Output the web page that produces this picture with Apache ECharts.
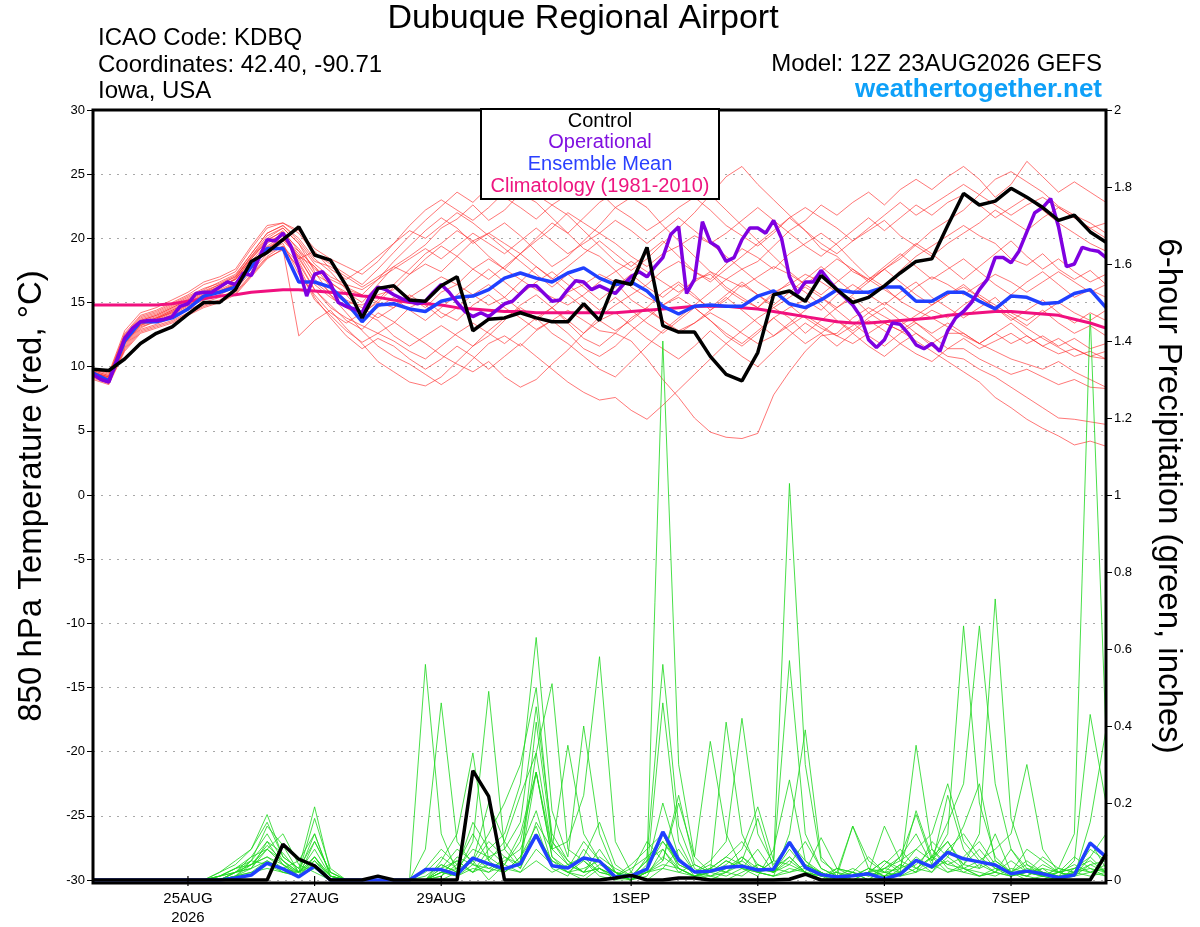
<!DOCTYPE html>
<html><head><meta charset="utf-8">
<script src="https://cdn.jsdelivr.net/npm/echarts@6/dist/echarts.min.js"></script>
<style>html,body{margin:0;padding:0;background:#fff}#chart{width:1200px;height:927px}</style>
</head><body><div id="chart"></div>
<script>
// ---- tick labels (hours since 12Z 23AUG2026) ----
const tickHours = [36, 84, 132, 204, 252, 300, 348];
const tickLabels = ['25AUG\n2026', '27AUG', '29AUG', '1SEP', '3SEP', '5SEP', '7SEP'];

// ---- 6-hourly main series (65 points, 0..384 h) ----
const controlTemp = [
 9.8,9.7,10.6,11.8,12.6,13.1,14.1,15.0,15.0,16.0,18.2,18.9,19.9,
 20.9,18.7,18.3,16.3,13.8,16.1,16.3,15.2,15.1,16.3,17.0,12.8,13.7,
 13.8,14.2,13.8,13.5,13.5,14.9,13.6,16.7,16.4,19.3,13.2,12.7,12.7,
 10.8,9.4,8.9,11.1,15.6,15.9,15.1,17.1,16.0,15.0,15.4,16.3,17.3,
 18.2,18.4,21.0,23.5,22.6,22.9,23.9,23.2,22.4,21.4,21.8,20.5,19.7];
const meanTemp = [
 9.5,8.9,12.0,13.5,13.5,13.8,14.5,15.5,15.8,16.2,17.8,19.2,19.2,
 16.6,16.6,16.2,15.0,13.5,14.8,14.9,14.5,14.3,15.1,15.4,15.5,16.0,
 16.9,17.3,16.9,16.6,17.3,17.7,16.9,16.4,16.6,15.9,14.7,14.1,14.7,
 14.8,14.7,14.7,15.5,15.9,14.9,14.6,15.2,16.0,15.8,15.8,16.2,16.2,
 15.1,15.1,15.8,15.8,15.1,14.5,15.5,15.4,14.9,15.0,15.7,16.0,14.6];
const climoTemp = [
 14.8,14.8,14.8,14.8,14.8,14.9,15.1,15.3,15.5,15.6,15.8,15.9,16.0,
 16.0,15.9,15.8,15.7,15.5,15.4,15.2,15.0,14.9,14.8,14.6,14.5,14.4,
 14.3,14.3,14.2,14.2,14.2,14.2,14.2,14.2,14.3,14.4,14.5,14.6,14.7,
 14.7,14.7,14.6,14.5,14.3,14.1,13.9,13.7,13.5,13.4,13.4,13.5,13.6,
 13.7,13.8,14.0,14.1,14.2,14.3,14.3,14.2,14.1,14.0,13.7,13.4,13.0];
const controlPrecip = [
 0,0,0,0,0,0,0,0,0,0,0,0,0.093,
 0.054,0.037,0,0,0,0.01,0,0,0,0,0,0.284,0.217,
 0,0,0,0,0,0,0,0.005,0.012,0,0,0.005,0.005,
 0,0,0,0,0,0.002,0.015,0,0,0,0,0,0,
 0,0,0,0,0,0,0,0,0,0,0,0,0.067];
const meanPrecip = [
 0,0,0,0,0,0,0,0,0,0.005,0.013,0.044,0.029,
 0.008,0.036,0,0,0,0,0,0,0.027,0.027,0.014,0.057,0.042,
 0.029,0.042,0.117,0.037,0.031,0.057,0.049,0.008,0.011,0.028,0.125,0.052,0.021,
 0.023,0.033,0.036,0.026,0.028,0.098,0.033,0.014,0.008,0.011,0.016,0.003,0.015,
 0.051,0.034,0.072,0.055,0.047,0.039,0.016,0.023,0.016,0.006,0.013,0.096,0.06];

// ---- 3-hourly operational run (129 points) ----
const operationalTemp = [
 9.4,9.0,8.8,10.5,12.2,13.0,13.5,13.6,13.6,13.7,
 13.9,14.7,14.9,15.7,15.8,15.8,16.2,16.6,16.4,17.3,
 17.1,18.5,19.9,19.8,20.4,19.4,17.7,15.5,17.2,17.4,
 16.5,15.0,14.7,14.5,14.2,15.5,16.2,16.0,15.6,15.3,
 15.1,14.9,15.1,15.8,16.4,15.8,15.0,14.3,13.9,14.2,
 13.9,14.4,14.9,15.1,15.7,16.3,16.3,15.7,15.1,15.2,
 16.0,16.7,16.6,16.0,16.3,16.0,15.7,16.4,17.0,17.4,
 17.0,17.8,18.5,20.3,20.9,15.7,16.8,21.3,19.7,19.3,
 18.2,18.5,19.9,20.8,20.8,20.4,21.4,20.0,17.0,15.7,
 16.6,16.6,17.5,16.7,16.0,15.4,14.8,13.9,12.1,11.5,
 12.1,13.4,13.3,12.6,11.7,11.4,11.8,11.2,12.8,13.8,
 14.3,15.0,16.0,16.8,18.5,18.5,18.1,19.0,20.5,22.0,
 22.4,23.1,20.9,17.8,18.0,19.3,19.1,19.0,18.5];

// ---- ensemble members: 850 hPa temperature (6-hourly) ----
const memberT01 = [9.6,9.2,12.2,13.6,14.0,14.6,15.2,15.8,16.2,16.8,18.4,19.8,20.6, 19.0,17.2,16.5,15.8,15.0,16.4,17.8,18.6,19.5, 20.8,21.5,22.6,21.4,22.2,23.5,22.8,21.6,20.4,19.2,18.6,17.5, 16.2,15.4,14.8,15.6,16.8,17.2,16.0,15.2,14.6,15.8,16.4, 17.2,16.6,15.8,14.9,15.5,16.2,15.1,14.4,13.8,13.1, 12.4,11.8,12.6,11.8,12.4,11.6,11.0,11.4,10.8,10.6];
const memberT02 = [9.4,8.9,11.8,13.2,13.8,14.2,14.8,15.4,16.0,16.6,18.0,19.4,20.2, 18.2,16.0,14.8,13.6,12.9,14.2,13.5,12.6,11.8, 10.9,10.2,9.6,10.4,9.2,8.4,9.0,10.2,11.3,12.6,13.9,14.8, 15.6,16.4,17.5,18.2,17.4,16.8,18.0,19.2,18.5,17.6,18.8, 19.6,20.4,19.5,18.2,17.0,16.2,17.5,18.6,19.4,20.2, 21.0,20.2,19.6,18.4,17.9,18.8,17.6,16.8,17.5,16.4];
const memberT03 = [9.8,9.4,12.6,14.0,14.4,15.0,15.6,16.4,16.8,17.4,19.2,20.8,21.2, 20.4,18.8,18.0,17.2,16.4,17.6,18.9,20.2,21.4, 22.5,23.6,22.8,24.0,23.2,22.4,21.5,22.6,21.8,20.6,19.4,18.2, 17.5,18.4,19.6,20.8,22.0,23.4,24.8,25.6,24.2,23.0,21.8, 20.6,19.2,18.6,17.4,16.8,17.6,18.4,19.5,20.6,21.4, 22.2,23.4,24.6,25.2,24.4,23.6,22.5,21.8,21.2,20.4];
const memberT04 = [9.2,8.8,11.4,12.8,13.2,13.6,14.2,14.8,15.2,15.8,17.2,18.6,19.4, 17.6,15.2,14.0,12.8,11.9,12.6,13.4,14.6,15.2, 14.2,13.6,14.8,15.6,14.6,13.8,12.9,13.6,14.4,13.6,12.8,12.6, 12.0,10.6,9.0,7.6,6.0,4.9,4.5,4.4,4.8,7.8,9.6, 11.2,12.4,12.6,13.8,14.6,13.9,13.2,14.0,14.8,15.6, 16.2,15.4,14.6,13.8,13.0,12.2,11.5,10.8,11.2,10.6];
const memberT05 = [9.5,9.1,12.0,13.4,13.8,14.4,15.0,15.6,15.9,16.4,17.8,19.0,19.8, 18.6,17.8,16.6,15.6,14.2,15.0,16.2,15.4,14.6, 15.8,16.4,15.6,14.8,15.4,16.6,17.8,16.9,15.8,16.4,17.2,16.6, 15.2,14.4,13.6,12.8,13.4,14.2,13.5,12.6,11.8,12.4,13.2, 14.0,13.2,12.4,11.8,12.6,13.4,12.8,12.0,11.2,10.4, 9.6,8.8,7.6,6.8,5.9,5.2,4.6,3.9,4.2,3.8];
const memberT06 = [9.3,8.8,11.6,13.0,13.6,14.0,14.6,15.2,15.6,16.2,17.6,19.2,20.0, 18.8,16.8,15.8,15.0,14.8,15.6,16.0,17.2,18.0, 17.4,18.6,19.8,20.4,19.6,18.8,19.8,20.8,22.0,21.2,20.4,19.6, 18.6,17.8,18.8,19.4,20.2,19.6,18.6,17.6,18.2,19.4,20.6, 21.4,22.6,21.8,22.8,23.6,22.6,23.8,24.6,23.8,24.8, 25.6,24.6,23.2,24.2,26.0,24.8,23.6,24.4,23.6,22.8];
const memberT07 = [9.6,9.0,11.9,13.3,13.7,14.3,14.9,15.5,16.1,16.9,18.6,20.2,20.8, 19.6,17.4,15.6,14.2,12.8,11.6,10.8,10.2,9.4, 8.6,9.4,10.6,11.8,12.4,11.6,12.8,13.6,12.6,11.4,10.8,11.6, 12.8,13.8,14.8,15.4,14.6,13.6,12.4,11.6,12.6,13.8,14.6, 15.2,14.4,15.6,16.4,15.6,14.8,15.8,16.6,15.4,14.6, 13.8,14.6,15.4,14.2,13.6,14.4,13.4,12.6,13.2,12.4];
const memberT08 = [9.7,9.3,12.4,13.8,14.2,14.8,15.4,16.0,16.6,17.2,18.8,20.4,21.0, 20.0,18.4,17.4,16.0,15.6,16.8,18.2,19.4,20.6, 21.6,20.8,19.6,20.4,21.2,20.2,19.0,17.8,18.6,19.8,21.0,22.4, 23.2,22.4,21.0,19.8,18.6,17.4,16.2,15.4,14.6,15.6,16.6, 15.8,14.8,13.6,12.8,13.8,14.6,13.6,12.6,11.8,12.6, 12.6,11.8,11.2,10.6,10.2,9.8,10.4,9.6,9.0,8.4];
const memberT09 = [9.5,9.0,12.1,13.5,13.9,14.5,15.1,15.7,16.3,16.8,18.2,19.6,20.4, 19.2,17.6,16.8,16.2,15.6,15.0,14.6,15.4,16.2, 17.0,16.4,17.6,18.4,17.6,16.8,16.0,15.4,14.8,15.6,16.6,17.4, 18.2,17.4,16.6,15.8,16.6,17.4,16.8,16.2,17.0,17.8,17.2, 16.4,15.6,16.6,17.6,16.8,16.0,15.2,16.2,17.0,16.4, 15.6,16.4,17.2,16.6,15.8,16.6,17.4,16.6,15.8,16.4];
const memberT10 = [9.0,8.6,11.2,12.6,13.0,13.4,14.0,14.6,15.0,15.6,17.0,18.4,19.2, 12.4,13.6,14.4,13.0,11.8,10.4,9.6,8.8,8.5, 9.2,10.4,11.6,12.4,13.6,14.8,15.6,14.6,13.4,12.2,11.6,12.6, 13.8,14.6,15.8,16.6,15.6,14.4,15.2,16.4,15.6,14.6,13.8, 12.6,13.6,14.6,15.4,14.2,13.4,12.8,13.6,14.4,13.8, 14.8,15.6,14.8,14.0,13.2,14.2,15.0,14.2,13.6,14.4];
const memberT11 = [9.8,9.5,12.8,14.2,14.6,15.2,15.8,16.6,17.0,17.6,19.4,21.0,21.2, 20.6,19.2,18.4,17.8,17.2,18.2,19.6,21.0,22.2, 23.0,22.2,21.4,22.4,23.6,24.2,23.4,22.6,23.4,24.4,23.6,22.4, 21.6,20.6,21.4,22.4,23.2,22.2,21.0,20.2,19.4,20.4,21.6, 22.4,21.6,20.8,19.8,20.6,21.4,20.2,19.4,18.6,19.6, 20.4,21.2,22.2,21.4,20.6,21.6,22.4,21.6,20.8,20.0];
const memberT12 = [9.4,9.0,11.7,13.1,13.5,14.1,14.7,15.3,15.8,16.4,17.8,19.0,19.6, 17.2,15.6,14.2,13.4,14.2,13.6,12.4,11.6,12.4, 13.2,12.4,11.6,12.8,13.8,14.6,13.8,12.6,11.8,10.8,9.8,9.2, 10.4,11.6,12.8,13.8,14.8,15.8,16.8,17.6,16.6,15.8,14.8, 13.8,13.0,12.4,13.2,14.2,15.0,14.2,13.4,12.6,13.4, 12.6,11.8,12.6,13.4,12.4,11.6,12.2,11.4,10.8,11.2];
const memberT13 = [9.6,9.1,12.0,13.4,13.8,14.4,15.0,15.6,16.2,16.8,18.4,19.8,20.2, 18.6,16.4,15.4,14.6,14.0,15.2,16.4,17.6,18.8, 19.6,20.6,19.8,18.6,17.6,18.8,20.0,21.2,20.4,21.6,22.8,23.6, 24.4,25.2,24.2,25.9,24.6,23.4,22.2,21.0,19.8,18.6,17.4, 16.4,17.4,18.4,17.6,16.6,17.6,18.6,19.6,18.8,17.8, 16.8,17.8,18.8,19.8,18.6,17.6,18.4,17.4,16.6,17.2];
const memberT14 = [9.2,8.7,11.5,12.9,13.3,13.8,14.4,15.0,15.4,16.0,17.4,18.8,19.4, 18.0,16.0,14.6,13.8,13.2,12.6,12.0,11.2,10.6, 11.6,12.6,13.4,12.6,11.8,12.8,13.8,14.6,13.6,12.6,13.6,14.2, 13.2,12.2,11.4,10.6,11.6,12.8,11.8,10.8,10.0,11.2,12.4, 13.4,12.6,11.6,12.6,13.6,12.8,11.8,11.0,10.4,11.4, 12.2,11.4,12.0,12.6,11.8,12.4,11.6,12.2,11.4,11.8];
const memberT15 = [9.5,9.2,12.3,13.7,14.1,14.7,15.3,15.9,16.4,17.0,18.6,20.0,20.8, 19.6,18.0,17.0,16.4,16.0,16.8,17.6,18.4,19.2, 18.4,19.4,20.4,19.6,18.8,19.8,20.8,19.8,18.8,19.6,20.4,21.4, 20.6,19.6,20.6,21.6,20.6,19.6,20.4,21.4,22.4,21.4,20.4, 19.4,18.6,19.6,20.6,21.6,20.6,21.6,22.6,21.8,22.8, 23.4,22.6,21.6,22.4,23.2,22.2,21.2,20.4,19.6,19.0];
const memberT16 = [9.3,8.9,11.8,13.2,13.6,14.2,14.8,15.4,15.8,16.4,17.8,19.2,19.9, 19.0,17.8,16.2,15.2,14.6,13.8,14.6,15.6,14.8, 13.8,14.6,15.6,16.4,15.4,14.4,13.6,14.6,15.6,14.6,13.6,12.8, 13.6,14.6,13.6,12.6,13.4,14.4,15.4,14.4,13.4,12.4,13.4, 14.4,15.4,14.4,13.4,12.4,11.6,12.6,13.4,12.4,11.4, 11.4,10.6,10.0,9.4,9.8,9.2,8.6,9.0,8.4,8.3];
const memberT17 = [9.7,9.3,12.5,13.9,14.3,14.9,15.5,16.1,16.5,17.1,18.8,20.4,21.0, 19.8,18.2,17.8,17.0,16.2,17.0,17.8,17.2,18.4, 19.4,18.6,17.6,16.8,17.8,18.8,17.8,16.8,17.8,18.8,19.8,18.8, 17.8,18.8,19.8,18.6,17.4,16.6,17.6,18.6,19.6,20.6,21.6, 20.6,19.6,18.8,19.8,20.8,21.8,22.8,21.8,22.6,23.4, 24.2,23.4,22.6,21.8,22.6,23.2,22.4,21.6,20.8,21.2];
const memberT18 = [9.1,8.7,11.3,12.7,13.1,13.5,14.1,14.7,15.1,15.7,17.1,18.5,19.1, 17.8,15.4,13.8,12.4,11.4,12.2,11.6,10.6,9.8, 10.6,11.6,10.8,9.8,10.8,11.8,10.8,9.8,8.8,8.0,7.4,7.6, 6.6,5.9,7.0,8.2,9.4,10.6,11.8,12.8,13.8,14.6,15.4, 16.2,15.4,14.6,15.6,16.6,17.6,16.6,15.6,14.8,15.6, 16.4,15.4,14.6,13.6,14.4,15.2,14.2,13.4,14.2,13.6];
const memberT19 = [9.6,9.2,12.2,13.6,14.0,14.6,15.2,15.8,16.4,17.0,18.5,19.9,20.5, 18.4,19.0,17.6,16.8,17.6,18.6,19.6,20.6,20.0, 21.0,22.0,21.2,20.2,19.2,18.2,17.2,16.2,17.2,16.2,15.2,16.2, 17.2,16.2,15.4,16.4,15.4,14.6,15.6,16.6,15.6,14.8,15.8, 16.8,17.8,16.8,15.8,16.8,17.8,18.8,17.8,16.8,17.6, 18.4,17.4,16.4,15.6,16.6,17.4,16.4,15.4,16.0,15.4];
const memberT20 = [9.4,8.9,11.9,13.3,13.7,14.3,14.9,15.5,15.9,16.5,17.9,19.3,20.0, 18.4,16.6,15.6,14.6,13.8,14.6,15.4,14.4,13.6, 14.6,15.6,16.6,17.6,16.6,15.6,16.6,17.4,16.4,15.4,14.4,15.4, 14.4,13.4,12.6,13.6,14.6,13.6,12.6,11.8,12.8,13.8,12.8, 11.8,12.6,13.6,12.6,11.6,10.8,11.8,12.6,11.6,10.8, 10.6,9.8,9.2,8.4,7.6,6.8,6.0,5.9,5.7,5.5];

// ---- ensemble members: 6-hour precipitation (inches) ----
const memberP01 = [0,0,0,0,0,0,0,0,0.01,0.03,0.06,0.12,0.05, 0.02,0.08,0.01,0,0,0,0,0,0.56,0.12,0.02,0.05,0, 0.04,0.10,0.28,0.06,0.02,0.05,0.01,0,0,0.04,1.40,0.30,0.06, 0.02,0.05,0.03,0.01,0.08,0.26,0.05,0.01,0,0,0.02,0,0.03, 0.05,0.02,0.08,0.04,0.03,0.12,0.02,0,0.01,0,0.03,0.05,0.02];
const memberP02 = [0,0,0,0,0,0,0,0,0,0.02,0.04,0.08,0.12, 0.04,0.02,0,0,0,0,0,0,0.08,0.46,0.10,0.04,0.02, 0.06,0.03,0.15,0.08,0.10,0.22,0.58,0.10,0.02,0,0.03,0.08,0.02, 0.01,0.03,0.06,0.02,0.05,1.03,0.30,0.05,0.02,0,0,0.01,0.04, 0.02,0.06,0.10,0.03,0.01,0.02,0.05,0.02,0.01,0.03,0.12,1.47,0.38];
const memberP03 = [0,0,0,0,0,0,0,0,0.02,0.04,0.08,0.17,0.06, 0.03,0.19,0.02,0,0,0,0,0,0,0.04,0.02,0.10,0.49, 0.08,0.03,0.12,0.05,0.02,0,0.03,0.01,0,0.06,0.56,0.14,0.03, 0.01,0,0.02,0.04,0.02,0.10,0.03,0,0,0.01,0.02,0.05,0.03, 0.08,0.05,0.12,0.66,0.20,0.06,0.02,0.01,0,0.02,0.04,0.02,0.01];
const memberP04 = [0,0,0,0,0,0,0,0,0,0.01,0.05,0.14,0.09, 0.02,0.12,0.01,0,0,0,0,0,0.02,0.06,0.03,0.15,0.08, 0.12,0.25,0.63,0.18,0.06,0.40,0.12,0.02,0,0.01,0.08,0.03,0.01, 0.03,0.06,0.10,0.04,0.02,0.06,0.02,0,0.03,0.02,0,0.04,0.08, 0.03,0.06,0.15,0.25,0.66,0.25,0.08,0.02,0.03,0,0.01,0.06,0.02];
const memberP05 = [0,0,0,0,0,0,0,0,0.01,0.02,0.03,0.10,0.04, 0.01,0.06,0,0,0,0,0,0,0,0.03,0.08,0.05,0.12, 0.20,0.30,0.50,0.10,0.04,0.02,0.06,0.03,0.01,0.02,0.46,0.10,0.02, 0,0.02,0.05,0.02,0.01,0.12,0.39,0.06,0.01,0.02,0,0.03,0.06, 0.17,0.05,0.10,0.04,0.12,0.73,0.16,0.04,0.01,0,0.02,0.10,0.03];
const memberP06 = [0,0,0,0,0,0,0,0,0,0.02,0.06,0.08,0.05, 0.02,0.16,0.03,0,0,0,0,0,0,0.05,0.12,0.33,0.05, 0.02,0.06,0.14,0.03,0.01,0.08,0.03,0,0.02,0.10,0.05,0.20,0.06, 0.36,0.12,0.03,0.02,0.05,0.57,0.12,0.03,0.01,0,0.02,0.01,0.04, 0.02,0.10,0.06,0.14,0.25,0.05,0.02,0.04,0.02,0.01,0.05,0.43,0.20];
const memberP07 = [0,0,0,0,0,0,0,0,0.01,0.03,0.04,0.06,0.03, 0.05,0.12,0.01,0,0,0,0,0,0,0.02,0.03,0.08,0.06, 0.08,0.15,0.45,0.12,0.05,0.02,0.08,0.02,0,0.03,0.20,0.06,0.01, 0.02,0.41,0.12,0.03,0.02,0.08,0.03,0.02,0,0.01,0.03,0.01,0.02, 0.35,0.08,0.04,0.06,0.10,0.04,0.02,0.01,0.03,0.02,0.01,0.15,0.39];
const memberP08 = [0,0,0,0,0,0,0,0,0,0.01,0.02,0.05,0.02, 0.01,0.05,0,0,0,0,0,0,0.03,0.08,0.04,0.12,0.05, 0.10,0.22,0.33,0.51,0.08,0.05,0.02,0.01,0.03,0.06,0.10,0.04,0.02, 0.05,0.10,0.42,0.12,0.04,0.10,0.05,0.02,0,0.01,0.02,0.03,0.05, 0.08,0.12,0.25,0.10,0.05,0.08,0.12,0.30,0.08,0.02,0.01,0.04,0.05];
const memberP09 = [0,0,0,0,0,0,0,0,0.02,0.05,0.08,0.15,0.06, 0.03,0.10,0.02,0,0,0,0,0,0,0.02,0.05,0.02,0.08, 0.04,0.12,0.28,0.06,0.03,0.10,0.05,0.02,0,0.02,0.06,0.03,0.01, 0.02,0.04,0.08,0.19,0.05,0.04,0.02,0,0.01,0.14,0.03,0.01,0.02, 0.05,0.03,0.08,0.12,0.06,0.03,0.02,0.08,0.05,0.02,0.06,0.03,0.02];
const memberP10 = [0,0,0,0,0,0,0,0,0,0.02,0.05,0.10,0.07, 0.02,0.06,0.01,0,0,0,0,0,0,0.01,0.06,0.04,0.10, 0.06,0.04,0.41,0.10,0.05,0.02,0.03,0.01,0.01,0.05,0.12,0.04,0.02, 0.03,0.06,0.04,0.02,0.03,0.06,0.02,0.11,0.03,0.01,0.02,0.14,0.05, 0.03,0.06,0.02,0.04,0.08,0.03,0.01,0.02,0.06,0.03,0.02,0.08,0.05];
const memberP11 = [0,0,0,0,0,0,0,0,0,0.01,0.03,0.08,0.04, 0.01,0.03,0,0,0,0,0,0,0,0,0.02,0.06,0.03, 0.02,0.05,0.33,0.08,0.04,0.06,0.15,0.04,0.01,0.02,0.05,0.22,0.04, 0.02,0.03,0.05,0.16,0.03,0.02,0.04,0.02,0,0.02,0.06,0.02,0.03, 0.18,0.06,0.04,0.03,0.05,0.02,0.08,0.03,0.01,0.02,0.03,0.02,0.04];
const memberP12 = [0,0,0,0,0,0,0,0,0.01,0.02,0.04,0.06,0.04, 0.02,0.06,0.01,0,0,0,0,0,0.01,0.04,0.02,0.05,0.20, 0.10,0.04,0.28,0.08,0.35,0.12,0.05,0.02,0.01,0.03,0.10,0.05,0.02, 0.04,0.02,0.06,0.03,0.02,0.04,0.10,0.03,0.01,0.03,0.01,0.02,0.06, 0.12,0.04,0.22,0.08,0.03,0.05,0.02,0.01,0.04,0.02,0.03,0.06,0.12];
const memberP13 = [0,0,0,0,0,0,0,0,0,0.01,0.04,0.09,0.05, 0.01,0.10,0.02,0,0,0,0,0,0,0.02,0.01,0.04,0.03, 0.05,0.08,0.18,0.04,0.02,0.01,0.04,0.02,0,0.02,0.04,0.03,0.01, 0.02,0.05,0.03,0.08,0.02,0.10,0.04,0.02,0,0.01,0.02,0.05,0.02, 0.06,0.03,0.05,0.02,0.01,0.03,0.02,0.05,0.02,0.01,0.02,0.03,0.01];
const memberP14 = [0,0,0,0,0,0,0,0,0,0.02,0.03,0.05,0.03, 0.02,0.05,0.01,0,0,0,0,0,0,0.03,0.05,0.02,0.04, 0.02,0.06,0.12,0.05,0.03,0.06,0.02,0.01,0.04,0.08,0.12,0.03,0.01, 0.01,0.02,0.04,0.02,0.01,0.03,0.02,0.01,0.02,0.14,0.05,0.02,0.01, 0.03,0.02,0.06,0.03,0.02,0.01,0.03,0.02,0.01,0.03,0.02,0.01,0.02];
const memberP15 = [0,0,0,0,0,0,0,0,0.01,0.03,0.05,0.04,0.02, 0.02,0.04,0,0,0,0,0,0,0,0.01,0.04,0.02,0.06, 0.03,0.02,0.08,0.04,0.02,0.03,0.05,0.02,0.01,0.05,0.08,0.02,0.01, 0.03,0.02,0.01,0.04,0.02,0.05,0.02,0.01,0.03,0.02,0.01,0.03,0.02, 0.04,0.08,0.03,0.02,0.04,0.02,0.01,0.02,0.01,0.02,0.01,0.02,0.03];
const memberP16 = [0,0,0,0,0,0,0,0,0,0.01,0.02,0.03,0.02, 0.01,0.04,0,0,0,0,0,0,0,0.02,0.01,0.03,0.02, 0.04,0.02,0.05,0.02,0.04,0.02,0.03,0.01,0,0.02,0.03,0.02,0.04, 0.02,0.01,0.03,0.02,0.01,0.02,0.03,0.01,0.02,0.01,0.03,0.02,0.01, 0.02,0.04,0.02,0.03,0.01,0.02,0.01,0.03,0.02,0.01,0.02,0.04,0.02];

const memberTemps = [memberT01,memberT02,memberT03,memberT04,memberT05,memberT06,memberT07,memberT08,memberT09,memberT10,
  memberT11,memberT12,memberT13,memberT14,memberT15,memberT16,memberT17,memberT18,memberT19,memberT20];
const memberPrecips = [memberP01,memberP02,memberP03,memberP04,memberP05,memberP06,memberP07,memberP08,
  memberP09,memberP10,memberP11,memberP12,memberP13,memberP14,memberP15,memberP16];

// ---- build chart ----
const FONT = '"Liberation Sans", Arial, Helvetica, sans-serif';
const at6 = arr => arr.map((v, i) => [i * 6, v]);
const at3 = arr => arr.map((v, i) => [i * 3, v]);
const lineSeries = (data, yIdx, color, width, z) => ({
  type: 'line', data, yAxisIndex: yIdx, showSymbol: false, symbol: 'none', silent: true,
  lineStyle: { color, width }, z, animation: false
});

const series = [];
memberTemps.forEach(m => series.push(lineSeries(at6(m), 0, 'rgba(255,45,45,0.72)', 0.9, 2)));
memberPrecips.forEach(m => series.push(lineSeries(at6(m), 1, 'rgba(30,215,30,0.9)', 0.9, 2)));
series.push(lineSeries(at6(climoTemp), 0, '#f0107f', 3, 3));
series.push(lineSeries(at6(meanPrecip), 1, '#2040ff', 3.5, 4));
series.push(lineSeries(at6(meanTemp), 0, '#2040ff', 3.5, 4));
series.push(lineSeries(at3(operationalTemp), 0, '#7f00e0', 3.5, 5));
series.push(lineSeries(at6(controlPrecip), 1, '#000000', 3.5, 6));
series.push(lineSeries(at6(controlTemp), 0, '#000000', 3.5, 6));
// date tick marks crossing the bottom frame, placed through the x scale
series.push({
  type: 'custom', silent: true, z: 60, clip: false, yAxisIndex: 0,
  data: tickHours.map(h => [h, -30]),
  renderItem: (params, api) => {
    const p = api.coord([api.value(0), api.value(1)]);
    return { type: 'line', shape: { x1: p[0], y1: p[1] - 4, x2: p[0], y2: p[1] + 6 },
      style: { stroke: '#000', lineWidth: 1.2 } };
  }
});

const chart = echarts.init(document.getElementById('chart'), null, { renderer: 'canvas' });
chart.setOption({
  animation: false,
  backgroundColor: '#ffffff',
  textStyle: { fontFamily: FONT },
  grid: { left: 93, right: 94, top: 110, bottom: 44, containLabel: false },
  xAxis: {
    type: 'value', min: 0, max: 384, position: 'bottom',
    axisLine: { show: false, onZero: false },
    splitLine: { show: false },
    axisTick: { show: false },
    axisLabel: {
      customValues: tickHours, color: '#000', fontSize: 15, fontFamily: FONT, margin: 9, lineHeight: 19,
      formatter: v => { const k = tickHours.indexOf(v); return k >= 0 ? tickLabels[k] : ''; }
    }
  },
  yAxis: [
    {
      type: 'value', min: -30, max: 30, interval: 5, position: 'left',
      axisLine: { show: false, onZero: false },
      axisTick: { show: true, length: 6, lineStyle: { color: '#000', width: 1 } },
      axisLabel: { color: '#000', fontSize: 13, fontFamily: FONT, margin: 8 },
      splitLine: { show: true, lineStyle: { color: '#a8a8a8', width: 1, type: [2, 6] } }
    },
    {
      type: 'value', min: 0, max: 2, interval: 0.2, position: 'right',
      axisLine: { show: false, onZero: false },
      axisTick: { show: true, length: 6, lineStyle: { color: '#000', width: 1 } },
      axisLabel: { color: '#000', fontSize: 13, fontFamily: FONT, margin: 8,
        formatter: v => String(Math.round(v * 10) / 10) },
      splitLine: { show: false }
    }
  ],
  series,
  graphic: [
    { type: 'rect', z: 50, silent: true, shape: { x: 93, y: 110, width: 1013, height: 773 },
      style: { fill: null, stroke: '#000', lineWidth: 3 } },
    { type: 'text', z: 60, x: 583, y: 19, style: { text: 'Dubuque Regional Airport', fill: '#000',
      font: '34px ' + FONT, textAlign: 'center', textVerticalAlign: 'middle' } },
    { type: 'text', z: 60, x: 98, y: 38, style: { text: 'ICAO Code: KDBQ', fill: '#000', font: '24px ' + FONT, textAlign: 'left', textVerticalAlign: 'middle' } },
    { type: 'text', z: 60, x: 98, y: 65, style: { text: 'Coordinates: 42.40, -90.71', fill: '#000', font: '24px ' + FONT, textAlign: 'left', textVerticalAlign: 'middle' } },
    { type: 'text', z: 60, x: 98, y: 91, style: { text: 'Iowa, USA', fill: '#000', font: '24px ' + FONT, textAlign: 'left', textVerticalAlign: 'middle' } },
    { type: 'text', z: 60, x: 1102, y: 64, style: { text: 'Model: 12Z 23AUG2026 GEFS', fill: '#000', font: '24px ' + FONT, textAlign: 'right', textVerticalAlign: 'middle' } },
    { type: 'text', z: 60, x: 1102, y: 90, style: { text: 'weathertogether.net', fill: '#0ea0f8', font: 'bold 26px ' + FONT, textAlign: 'right', textVerticalAlign: 'middle' } },
    { type: 'rect', z: 70, silent: true, shape: { x: 481, y: 109, width: 238, height: 90 },
      style: { fill: '#ffffff', stroke: '#000', lineWidth: 2 } },
    { type: 'text', z: 71, x: 600, y: 121, style: { text: 'Control', fill: '#000', font: '20px ' + FONT, textAlign: 'center', textVerticalAlign: 'middle' } },
    { type: 'text', z: 71, x: 600, y: 142, style: { text: 'Operational', fill: '#8010e0', font: '20px ' + FONT, textAlign: 'center', textVerticalAlign: 'middle' } },
    { type: 'text', z: 71, x: 600, y: 164, style: { text: 'Ensemble Mean', fill: '#2a40ff', font: '20px ' + FONT, textAlign: 'center', textVerticalAlign: 'middle' } },
    { type: 'text', z: 71, x: 600, y: 186, style: { text: 'Climatology (1981-2010)', fill: '#ee1680', font: '20px ' + FONT, textAlign: 'center', textVerticalAlign: 'middle' } },
    { type: 'text', z: 60, x: 32, y: 496, rotation: Math.PI / 2, style: { text: '850 hPa Temperature (red, \u00B0C)', fill: '#000', font: '33px ' + FONT, textAlign: 'center', textVerticalAlign: 'middle' } },
    { type: 'text', z: 60, x: 1168, y: 496, rotation: -Math.PI / 2, style: { text: '6-hour Precipitation (green, inches)', fill: '#000', font: '33px ' + FONT, textAlign: 'center', textVerticalAlign: 'middle' } }
  ]
});
</script>
</body></html>
